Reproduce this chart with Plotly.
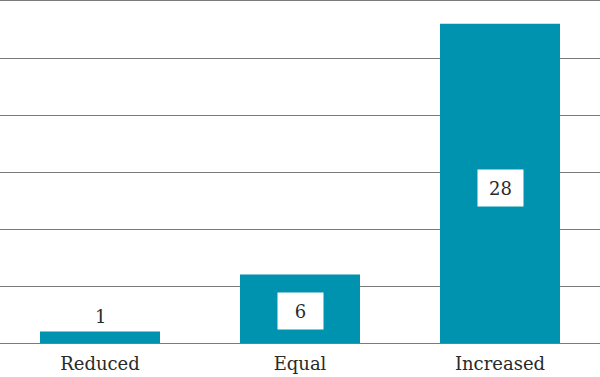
import plotly.graph_objects as go

categories = ["Reduced", "Equal", "Increased"]
values = [1, 6, 28]

BAR = "#0093AF"
FONT = "DejaVu Serif"
GRID = "#7a7a7a"

fig = go.Figure(go.Bar(
    x=categories, y=values, marker_color=BAR, marker_line_width=0,
    width=0.6, hoverinfo="skip",
))

for c, v in zip(categories, values):
    if v < 3:
        fig.add_annotation(x=c, y=v, text=str(v), showarrow=False,
                           yanchor="bottom", yshift=3,
                           font=dict(family=FONT, size=18, color="#2a2a2a"))
    else:
        fig.add_annotation(x=c, y=v / 2, text=str(v), showarrow=False,
                           bgcolor="white", width=43, height=34,
                           yshift=-2 if v < 10 else -5,
                           font=dict(family=FONT, size=18, color="#2a2a2a"))

fig.update_layout(
    width=600, height=377,
    margin=dict(l=0, r=0, t=1, b=34),
    paper_bgcolor="white", plot_bgcolor="white",
    showlegend=False, bargap=0.4,
    font=dict(family=FONT, size=18, color="#2a2a2a"),
    xaxis=dict(showgrid=False, ticks="", tickfont=dict(size=18),
               ticklabelstandoff=4, automargin=False,
               showline=True, mirror=True, linecolor=GRID, linewidth=1),
    yaxis=dict(range=[0, 30], dtick=5, showgrid=True, gridcolor=GRID,
               gridwidth=1, showticklabels=False, zeroline=True,
               zerolinecolor=GRID, zerolinewidth=1, ticks="",
               showline=False, automargin=False),
)

fig.write_html("out.html", config={"displayModeBar": False},
               post_script="document.body.style.margin='0';document.body.style.padding='0';")
